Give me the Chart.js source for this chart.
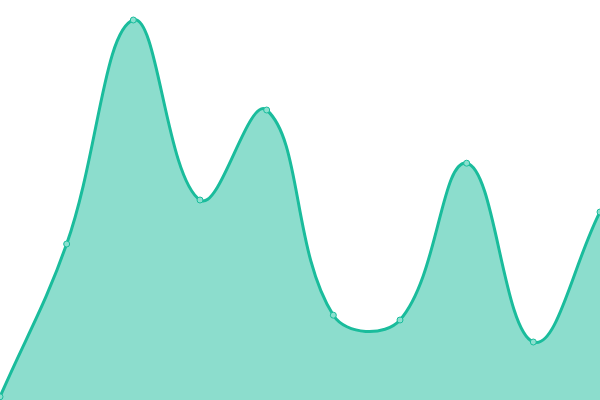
<!DOCTYPE html>
<html><head><meta charset="utf-8">
<script src="https://cdn.jsdelivr.net/npm/chart.js@4"></script>
<style>html,body{margin:0;padding:0;background:#fff}#wrap{width:600px;height:400px}</style>
</head><body><div id="wrap"><canvas id="c"></canvas></div>
<script>
const labels = ["1","2","3","4","5","6","7","8","9","10"];
const values = [0.8, 39, 95, 50, 72.5, 21.2, 20, 59.2, 14.5, 47];
new Chart(document.getElementById('c'), {
  type: 'line',
  data: { labels: labels, datasets: [{
    data: values,
    fill: true,
    tension: 0.4,
    borderColor: '#1abc9c',
    backgroundColor: 'rgba(26,188,156,0.5)',
    borderWidth: 3,
    pointRadius: 3,
    pointBorderWidth: 1,
    pointBackgroundColor: '#8be0cf',
    pointBorderColor: '#1abc9c'
  }]},
  options: {
    responsive: true, maintainAspectRatio: false, animation: false,
    layout: { padding: 0, autoPadding: false },
    plugins: { legend: { display: false }, tooltip: { enabled: false } },
    scales: {
      x: { display: false },
      y: { display: false, min: 0, max: 100 }
    }
  }
});
</script></body></html>
